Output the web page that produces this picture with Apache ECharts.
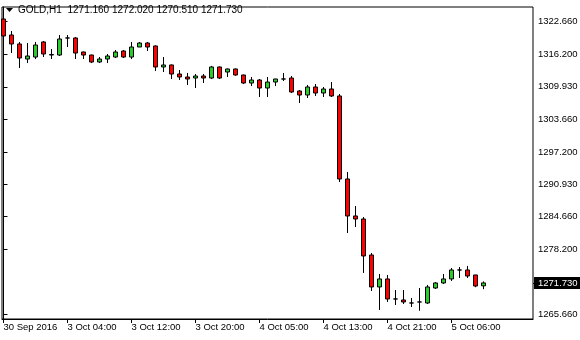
<!DOCTYPE html>
<html><head><meta charset="utf-8">
<script src="https://cdn.jsdelivr.net/npm/echarts@6/dist/echarts.min.js"></script>
<style>html,body{margin:0;padding:0;background:#fff}#c{width:580px;height:340px}</style>
</head><body><div id="c"></div>
<script>
const symbol = 'GOLD,H1';
const opens = [1323.15,1320.03,1318.28,1315.35,1315.74,1318.67,1316.13,1316.13,1319.45,1319.45,1316.72,1316.13,1314.77,1315.35,1315.74,1316.91,1315.74,1317.69,1318.47,1317.89,1313.80,1314.19,1312.43,1311.85,1311.65,1312.04,1311.65,1313.80,1312.82,1313.41,1312.24,1310.68,1311.26,1309.70,1310.87,1311.46,1311.65,1309.12,1308.34,1309.90,1308.73,1309.51,1308.15,1291.98,1284.77,1284.18,1277.17,1270.94,1272.50,1268.60,1268.41,1267.82,1268.02,1267.82,1270.74,1271.72,1272.50,1274.25,1274.25,1273.28,1271.16];
const closes = [1319.84,1318.28,1315.55,1315.94,1318.08,1316.33,1316.23,1319.25,1319.45,1316.52,1316.13,1314.77,1315.35,1315.94,1316.72,1315.74,1317.69,1318.47,1317.69,1313.80,1314.19,1312.43,1311.85,1311.46,1312.04,1311.65,1313.80,1311.65,1313.41,1312.24,1310.68,1311.26,1309.70,1310.87,1311.46,1311.46,1308.93,1308.34,1309.90,1308.73,1309.51,1308.15,1291.98,1284.77,1284.18,1276.98,1270.94,1272.50,1268.60,1268.60,1268.02,1267.82,1268.02,1270.94,1271.72,1272.50,1274.25,1274.25,1273.08,1271.13,1271.73];
const lows = [1319.25,1316.52,1313.60,1314.57,1315.35,1315.74,1315.35,1315.94,1317.69,1315.35,1315.35,1314.57,1314.57,1314.57,1315.55,1315.55,1315.35,1317.69,1316.91,1313.02,1312.82,1311.46,1311.26,1310.29,1309.70,1310.68,1311.46,1311.46,1311.85,1312.10,1310.48,1310.09,1307.95,1307.95,1310.09,1311.07,1308.73,1306.78,1307.76,1308.15,1307.95,1307.95,1291.39,1281.45,1282.62,1273.67,1270.16,1266.46,1268.02,1267.43,1267.63,1267.04,1266.30,1267.63,1270.55,1271.52,1272.11,1272.69,1272.69,1270.90,1270.51];
const highs = [1323.54,1320.81,1318.67,1318.47,1318.67,1318.86,1317.30,1320.03,1320.03,1319.64,1316.80,1316.20,1315.74,1316.33,1317.11,1317.11,1318.67,1318.67,1318.67,1318.00,1315.74,1314.30,1313.21,1312.63,1312.43,1312.43,1314.00,1313.90,1313.50,1313.50,1312.30,1311.85,1311.46,1311.85,1311.50,1312.63,1312.04,1309.31,1310.29,1310.48,1309.90,1310.87,1308.54,1293.34,1286.71,1284.57,1277.56,1273.47,1273.28,1270.35,1270.35,1268.80,1270.74,1271.33,1271.90,1273.47,1274.64,1274.83,1275.03,1273.30,1272.02];
const xTickIndex = [0,8,16,24,32,40,48,56];
const xTickLabels = ['30 Sep 2016','3 Oct 04:00','3 Oct 12:00','3 Oct 20:00','4 Oct 05:00','4 Oct 13:00','4 Oct 21:00','5 Oct 06:00'];
const yTickValues = [1322.66,1316.20,1309.93,1303.66,1297.20,1290.93,1284.66,1278.20,1265.66];

const n = opens.length;
const last = n - 1;
const data = opens.map((o, i) => [i, o, closes[i], lows[i], highs[i]]);
const font = '"Liberation Sans", Arial, sans-serif';
const fs = 9.5;
const yMin = 1264.70, yMax = 1325.485;
const chart = echarts.init(document.getElementById('c'), null, {renderer: 'canvas'});
chart.setOption({
  animation: false,
  backgroundColor: '#fff',
  title: {
    text: symbol + '  ' + [opens[last], highs[last], lows[last], closes[last]].map(v => v.toFixed(3)).join(' '),
    left: 18, top: 5, padding: 0,
    textStyle: {fontSize: 10, fontWeight: 'normal', color: '#000', fontFamily: font}
  },
  graphic: [{type: 'polygon', shape: {points: [[6, 8], [13, 8], [9.5, 12]]}, style: {fill: '#000'}}],
  grid: {left: 2, top: 7, right: 47, bottom: 21, show: true, borderColor: '#000', borderWidth: 1, backgroundColor: 'transparent', containLabel: false, outerBoundsMode: 'none'},
  xAxis: {
    type: 'value', min: -0.1875, max: 66.19,
    axisLine: {show: true, lineStyle: {color: '#000'}},
    splitLine: {show: false},
    axisTick: {show: true, customValues: xTickIndex, length: 4, lineStyle: {color: '#000'}},
    axisLabel: {customValues: xTickIndex, formatter: v => xTickLabels[xTickIndex.indexOf(v)], align: 'left', margin: 3, fontSize: fs, color: '#000', fontFamily: font}
  },
  yAxis: [{
    type: 'value', position: 'right', min: yMin, max: yMax,
    axisLine: {show: true, lineStyle: {color: '#000'}},
    splitLine: {show: false},
    axisTick: {show: true, customValues: yTickValues, length: 4, lineStyle: {color: '#000'}},
    axisLabel: {customValues: yTickValues, formatter: v => v.toFixed(3), margin: 5, fontSize: fs, color: '#000', fontFamily: font}
  }, {
    type: 'value', position: 'right', offset: 0, min: yMin, max: yMax,
    axisLine: {show: false},
    splitLine: {show: false},
    axisTick: {show: true, customValues: [closes[last]], length: 4, lineStyle: {color: '#000'}},
    axisLabel: {customValues: [closes[last]], formatter: v => v.toFixed(3), margin: 1, fontSize: fs, color: '#fff', backgroundColor: '#000', padding: [1, 3, 1, 4], fontFamily: font}
  }],
  series: [{
    type: 'candlestick',
    dimensions: ['idx', 'open', 'close', 'lowest', 'highest'],
    encode: {x: 'idx', y: ['open', 'close', 'lowest', 'highest']},
    data: data,
    barWidth: 4,
    itemStyle: {color: '#2BCB2B', color0: '#FF0000', borderColor: '#000', borderColor0: '#000', borderColorDoji: '#000', borderWidth: 1}
  }]
});
</script>
</body></html>
